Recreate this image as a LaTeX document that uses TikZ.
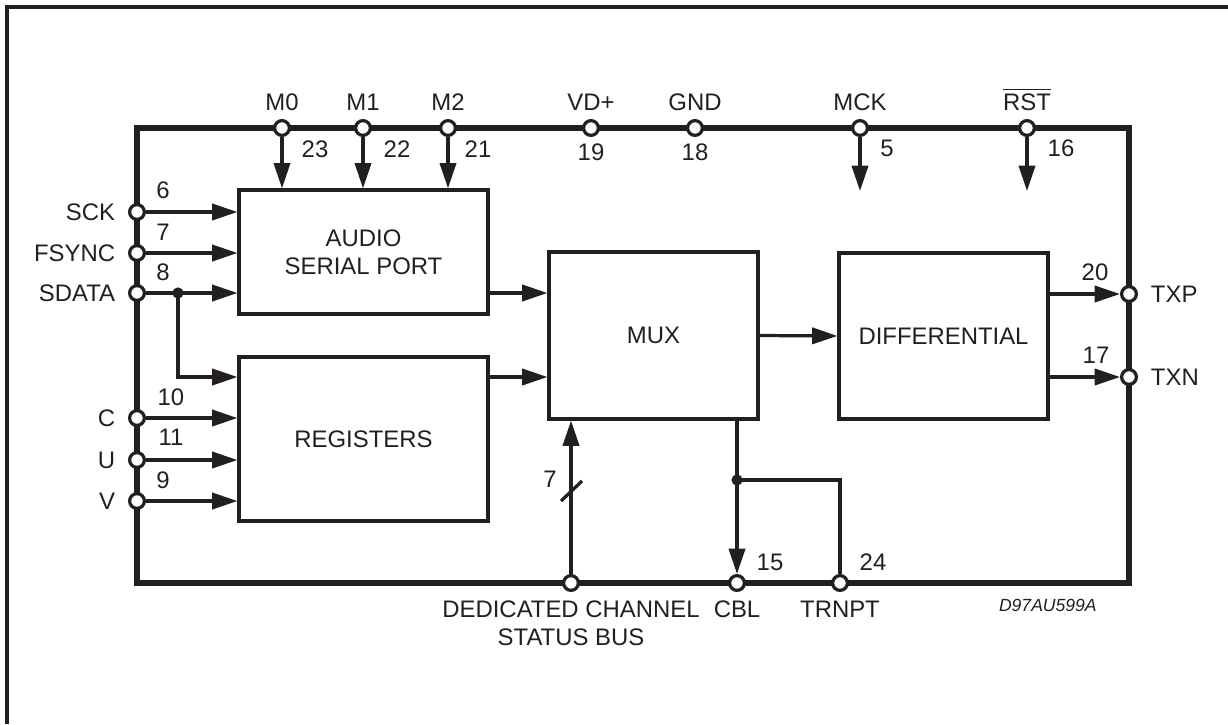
\documentclass[tikz,border=0pt]{standalone}
\usepackage{fontspec}
\usepackage{amsmath}
\setmainfont{Liberation Sans}
\usetikzlibrary{arrows.meta, positioning, calc}
\definecolor{ink}{RGB}{35,31,32}
\tikzset{
  block/.style={draw=ink, line width=2.3pt, fill=white, align=center,
                font=\fontsize{17}{20}\selectfont, text=ink, inner sep=0pt},
  pin/.style={circle, draw=ink, line width=2.3pt, fill=white, minimum size=10.5pt, inner sep=0pt},
  pinlabel/.style={font=\fontsize{17}{20}\selectfont, text=ink, inner sep=0pt, align=center},
  pinnum/.style={font=\fontsize{17}{20}\selectfont, text=ink, inner sep=0pt},
  sig/.style={draw=ink, line width=2.3pt, -{Triangle[length=18pt, width=11.5pt]}},
  wire/.style={draw=ink, line width=2.3pt},
  chipedge/.style={draw=ink, line width=4.5pt},
  dot/.style={circle, fill=ink, minimum size=8pt, inner sep=0pt},
}

\begin{document}
\begin{tikzpicture}[x=0.025cm, y=-0.025cm]
\useasboundingbox (0,0) rectangle (1228,724);
% page frame
\draw[ink, line width=2.2pt] (7,724) -- (7,7) -- (1228,7);
% chip outline
\draw[chipedge] (137,128) rectangle (1129,583);

% blocks
\node[block, minimum width=6.22cm, minimum height=3.1cm] (asp) at (363.5,252) {AUDIO\\SERIAL PORT};
\node[block, minimum width=6.22cm, minimum height=4.1cm] (reg) at (363.5,439) {REGISTERS};
\node[block, minimum width=5.22cm, minimum height=4.17cm] (mux) at (653.5,335.5) {MUX};
\node[block, minimum width=5.22cm, minimum height=4.15cm] (diff) at (943.5,336) {DIFFERENTIAL};

% top pins
\node[pin] (m0) at (282,128) {};
\node[pin] (m1) at (363,128) {};
\node[pin] (m2) at (448,128) {};
\node[pin] (vdd) at (591,128) {};
\node[pin] (gnd) at (695,128) {};
\node[pin] (mck) at (860,128) {};
\node[pin] (rst) at (1027,128) {};
\node[pinlabel, above=6pt of m0] {M0};
\node[pinlabel, above=6pt of m1] {M1};
\node[pinlabel, above=6pt of m2] {M2};
\node[pinlabel, above=6pt of vdd] {VD+};
\node[pinlabel, above=6pt of gnd] {GND};
\node[pinlabel, above=6pt of mck] {MCK};
\node[pinlabel, above=6pt of rst] {$\overline{\text{RST}}$};
\node[pinnum] at (315,149) {23};
\node[pinnum] at (397,149) {22};
\node[pinnum] at (478,149) {21};
\node[pinnum] at (591,152) {19};
\node[pinnum] at (695,152) {18};
\node[pinnum] at (887,148) {5};
\node[pinnum] at (1061,148) {16};

% left pins
\node[pin] (sck) at (137,212) {};
\node[pin] (fsync) at (137,253) {};
\node[pin] (sdata) at (137,293) {};
\node[pin] (cin) at (137,418) {};
\node[pin] (uin) at (137,460) {};
\node[pin] (vin) at (137,501) {};
\node[pinlabel, left=9pt of sck] {SCK};
\node[pinlabel, left=9pt of fsync] {FSYNC};
\node[pinlabel, left=9pt of sdata] {SDATA};
\node[pinlabel, left=9pt of cin] {C};
\node[pinlabel, left=9pt of uin] {U};
\node[pinlabel, left=9pt of vin] {V};
\node[pinnum] at (163,190) {6};
\node[pinnum] at (163,232) {7};
\node[pinnum] at (163,272) {8};
\node[pinnum] at (171,397) {10};
\node[pinnum] at (171,437) {11};
\node[pinnum] at (163,480) {9};

% right pins
\node[pin] (txp) at (1129,294) {};
\node[pin] (txn) at (1129,377) {};
\node[pinlabel, right=9pt of txp] {TXP};
\node[pinlabel, right=9pt of txn] {TXN};
\node[pinnum] at (1095,272) {20};
\node[pinnum] at (1096,355) {17};

% bottom pins
\node[pin] (dcs) at (571,583) {};
\node[pin] (cbl) at (737,583) {};
\node[pin] (trnpt) at (840,583) {};
\node[pinlabel, below=6pt of dcs] {DEDICATED CHANNEL\\STATUS BUS};
\node[pinlabel, below=6pt of cbl] {CBL};
\node[pinlabel, below=6pt of trnpt] {TRNPT};
\node[pinnum] at (770,562) {15};
\node[pinnum] at (873,562) {24};
\node[pinnum] at (550,479) {7};
\node[font=\itshape\fontsize{12.5}{14}\selectfont, text=ink, anchor=east, inner sep=0pt] at (1097,605) {D97AU599A};

% control inputs
\draw[sig] (m0) -- (m0 |- asp.north);
\draw[sig] (m1) -- (m1 |- asp.north);
\draw[sig] (m2) -- (m2 |- asp.north);
\coordinate (mckend) at (860,191);
\coordinate (rstend) at (1027,191);
\draw[sig] (mck) -- (mckend);
\draw[sig] (rst) -- (rstend);

% serial inputs
\draw[sig] (sck) -- (sck -| asp.west);
\draw[sig] (fsync) -- (fsync -| asp.west);
\draw[sig] (sdata) -- (sdata -| asp.west);
\node[dot] (jsd) at (178,293) {};
\coordinate (jreg) at (178,377);
\draw[sig] (jsd.center) -- (jreg) -- (jreg -| reg.west);
\draw[sig] (cin) -- (cin -| reg.west);
\draw[sig] (uin) -- (uin -| reg.west);
\draw[sig] (vin) -- (vin -| reg.west);

% data path
\draw[sig] (sdata -| asp.east) -- (sdata -| mux.west);
\draw[sig] (jreg -| reg.east) -- (jreg -| mux.west);
\draw[sig] (mux.east) -- (diff.west);
\draw[sig] (txp -| diff.east) -- (txp);
\draw[sig] (txn -| diff.east) -- (txn);

% bottom
\draw[sig] (dcs) -- (dcs |- mux.south);
\draw[wire] (561,501) -- (582,481);
\draw[sig] (cbl |- mux.south) -- (cbl);
\node[dot] (jcbl) at (737,480) {};
\draw[wire] (jcbl.center) -| (trnpt);
\end{tikzpicture}
\end{document}
